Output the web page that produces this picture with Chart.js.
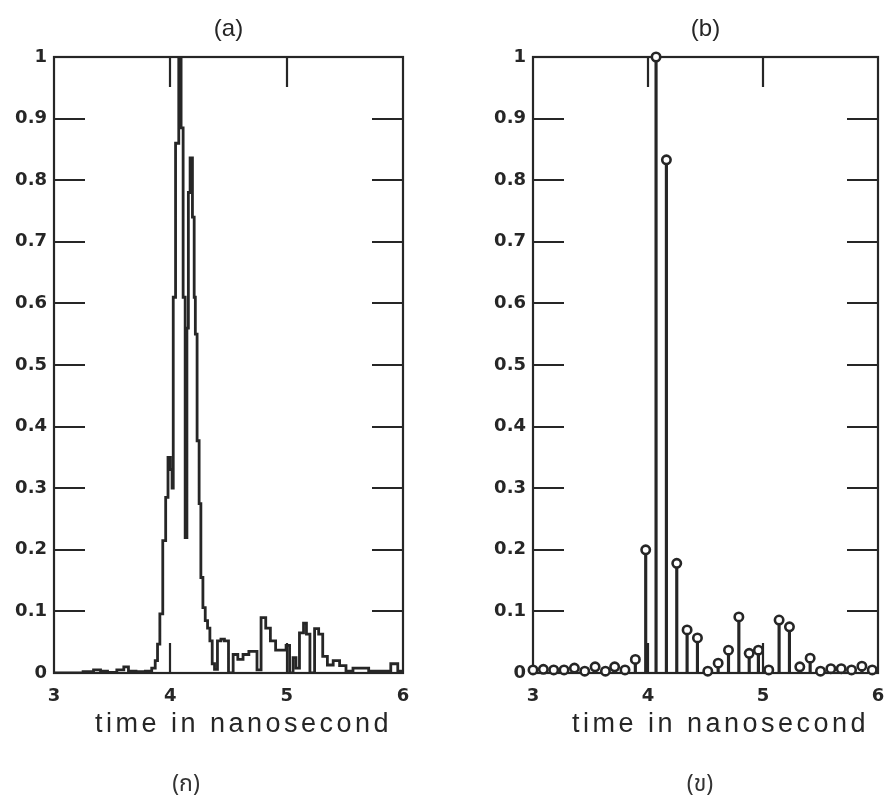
<!DOCTYPE html>
<html><head><meta charset="utf-8">
<script src="https://cdn.jsdelivr.net/npm/chart.js@4.4.0/dist/chart.umd.min.js"></script>
<style>
html,body{margin:0;padding:0;background:#fff;}
#wrap{position:relative;width:885px;height:799px;overflow:hidden;background:#fff;}
canvas{position:absolute;top:0;}
#ca{left:0;} #cb{left:442px;}
.cap{position:absolute;font-family:"Noto Sans Thai","Noto Sans Thai UI","Loma","Garuda","Norasi","Tlwg Typist","DejaVu Sans",sans-serif;font-size:23px;color:#333;transform:translate(-50%,-50%);white-space:nowrap;}
</style></head><body>
<div id="wrap">
<canvas id="ca" width="442" height="799"></canvas>
<canvas id="cb" width="470" height="799"></canvas>
<div class="cap" id="capA" style="left:186px;top:784px"></div>
<div class="cap" id="capB" style="left:700px;top:784px"></div>
</div>
<script>
// ---- data ----
const timeA = [3.00,3.20,3.30,3.38,3.42,3.50,3.58,3.62,3.66,3.75,3.82,3.86,3.88,3.90,3.92,3.95,3.97,3.99,4.01,4.02,4.03,4.06,4.085,4.10,4.12,4.135,4.15,4.16,4.18,4.20,4.21,4.22,4.24,4.255,4.27,4.29,4.31,4.33,4.35,4.37,4.39,4.42,4.45,4.48,4.52,4.56,4.60,4.65,4.70,4.73,4.76,4.80,4.84,4.88,4.93,4.98,5.01,5.04,5.07,5.09,5.13,5.16,5.18,5.22,5.26,5.29,5.33,5.37,5.43,5.48,5.54,5.60,5.69,5.72,5.86,5.93,5.98,6.00];
const ampA = [0,0,0.002,0.005,0.003,0.001,0.005,0.010,0.003,0.002,0.003,0.008,0.02,0.047,0.096,0.215,0.285,0.35,0.33,0.30,0.61,0.86,1.0,0.885,0.61,0.22,0.56,0.78,0.836,0.74,0.61,0.55,0.377,0.275,0.155,0.106,0.085,0.073,0.052,0.015,0.006,0.052,0.055,0.052,0.0,0.03,0.022,0.03,0.035,0.035,0.005,0.09,0.073,0.052,0.037,0.037,0.045,0.0,0.025,0.008,0.065,0.081,0.063,0.0,0.072,0.063,0.027,0.013,0.02,0.012,0.003,0.008,0.008,0.003,0.003,0.015,0.003,0];
const timeB = [3.00,3.09,3.18,3.27,3.36,3.45,3.54,3.63,3.71,3.80,3.89,3.98,4.07,4.16,4.25,4.34,4.43,4.52,4.61,4.70,4.79,4.88,4.96,5.05,5.14,5.23,5.32,5.41,5.50,5.59,5.68,5.77,5.86,5.95];
const ampB = [0.005,0.006,0.005,0.005,0.008,0.003,0.010,0.003,0.010,0.005,0.022,0.200,1.000,0.833,0.178,0.070,0.057,0.003,0.016,0.037,0.091,0.032,0.037,0.005,0.086,0.075,0.010,0.024,0.003,0.007,0.007,0.005,0.011,0.005];
const xTickValues = [3,4,5,6];
const xTickLabels = ['3','4','5','6'];
const yTickLabels = ['0','0.1','0.2','0.3','0.4','0.5','0.6','0.7','0.8','0.9','1'];
const panelTitles = ['(a)','(b)'];
const xAxisTitle = 'time in nanosecond';
const captions = ['(ก)','(ข)'];

// ---- styling ----
const INK = '#262626';
const TICK_FONT = {family:'"DejaVu Sans", sans-serif', size:18, weight:'bold'};

document.getElementById('capA').textContent = captions[0];
document.getElementById('capB').textContent = captions[1];

const framePlugin = {
  id:'frame',
  beforeDraw(chart){
    const s = chart.scales.x;
    if (s && !s.__wrapped){
      const orig = s.drawTitle;
      s.drawTitle = function(){
        const c = this.ctx; c.save();
        c.letterSpacing = '3.5px';
        c.translate(15,0);
        orig.apply(this, arguments);
        c.restore();
      };
      s.__wrapped = true;
    }
  },
  beforeDatasetsDraw(chart){
    const {ctx, chartArea:a, scales:{x,y}} = chart;
    ctx.save();
    ctx.strokeStyle = INK; ctx.lineWidth = 2.2;
    ctx.strokeRect(a.left, a.top, a.right-a.left, a.bottom-a.top);
    ctx.beginPath();
    x.ticks.forEach(t=>{
      if (t.value<=x.min || t.value>=x.max) return;
      const px = Math.round(x.getPixelForValue(t.value));
      ctx.moveTo(px,a.top); ctx.lineTo(px,a.top+30);
      ctx.moveTo(px,a.bottom); ctx.lineTo(px,a.bottom-30);
    });
    y.ticks.forEach(t=>{
      if (t.value<=y.min+1e-9 || t.value>=y.max-1e-9) return;
      const py = Math.round(y.getPixelForValue(t.value));
      ctx.moveTo(a.left,py); ctx.lineTo(a.left+31,py);
      ctx.moveTo(a.right,py); ctx.lineTo(a.right-31,py);
    });
    ctx.stroke();
    ctx.restore();
  }
};

function makeOptions(title, padLeft, padRight){
  return {
    responsive:false, animation:false, devicePixelRatio:1,
    layout:{padding:{left:padLeft, right:padRight, top:0, bottom:0}},
    plugins:{
      legend:{display:false}, tooltip:{enabled:false},
      title:{display:true, text:title, fullSize:false, color:INK,
        font:{family:'"Liberation Sans", Arial, sans-serif', size:24, weight:'normal'},
        padding:{top:14.6, bottom:13.6}}
    },
    scales:{
      x:{type:'linear', min:3, max:6, offset:false,
        afterBuildTicks(s){ s.ticks = xTickValues.map(v=>({value:v})); },
        afterFit(s){ s.height = 126; },
        grid:{display:false, drawTicks:false, offset:false}, border:{display:false},
        ticks:{color:INK, font:TICK_FONT, padding:13, maxRotation:0,
          callback:(v,i)=>xTickLabels[i]},
        title:{display:true, text:xAxisTitle, color:INK,
          font:{family:'"Liberation Sans", Arial, sans-serif', size:27, weight:'normal'},
          padding:{top:0, bottom:58}}
      },
      y:{type:'linear', min:0, max:1,
        afterFit(s){ s.width = 54; },
        grid:{display:false, drawTicks:false}, border:{display:false},
        ticks:{stepSize:0.1, color:INK, font:TICK_FONT, padding:7,
          callback:(v,i)=>yTickLabels[i]}
      }
    }
  };
}

new Chart(document.getElementById('ca'), {
  type:'line',
  data:{datasets:[{
    data: timeA.map((t,i)=>({x:t, y:ampA[i]})),
    borderColor:INK, borderWidth:2.8, pointRadius:0, stepped:'middle', fill:false
  }]},
  options: makeOptions(panelTitles[0], 0, 39),
  plugins:[framePlugin]
});

new Chart(document.getElementById('cb'), {
  type:'bar',
  data:{datasets:[
    {type:'line', data: timeB.map((t,i)=>({x:t, y:ampB[i]})), showLine:false,
     pointRadius:4.2, pointBorderWidth:2.6, pointBackgroundColor:'#fff', pointBorderColor:INK,
     clip:false, order:0},
    {type:'bar', data: timeB.map((t,i)=>({x:t, y:ampB[i]})), backgroundColor:INK,
     barThickness:2.5, order:1}
  ]},
  options: makeOptions(panelTitles[1], 37, 34),
  plugins:[framePlugin]
});
</script>
</body></html>
